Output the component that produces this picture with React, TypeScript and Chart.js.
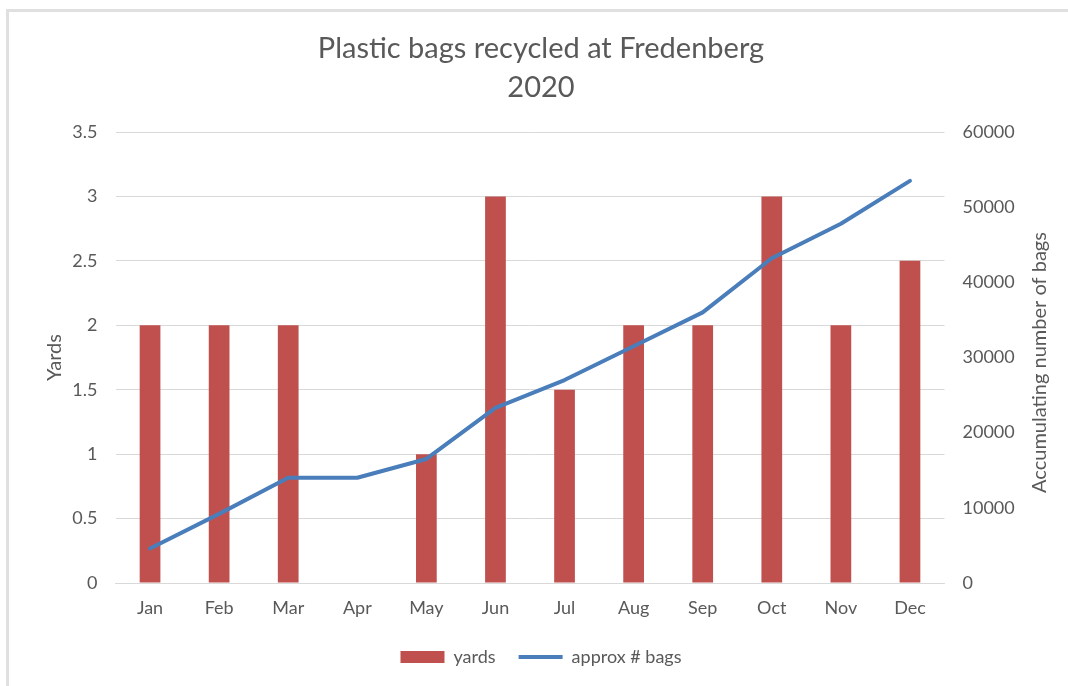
import React, { useEffect, useRef } from "react";
import { Chart, registerables } from "chart.js";

Chart.register(...registerables);

const months = ["Jan", "Feb", "Mar", "Apr", "May", "Jun", "Jul", "Aug", "Sep", "Oct", "Nov", "Dec"];
const yards = [2, 2, 2, 0, 1, 3, 1.5, 2, 2, 3, 2, 2.5];
const approxBags = [4600, 9200, 14000, 14000, 16500, 23300, 27000, 31500, 36000, 43200, 47800, 53500];
const titleLines = ["Plastic bags recycled at Fredenberg", "2020"];
const rightAxisTitle = "Accumulating number of bags";

const FONT = "Lato, 'Open Sans', sans-serif";
const TEXT = "#595959";
const GRID = "#d9d9d9";
const BAR = "#c0504d";
const LINE = "#4a7ebb";

const PAD_LEFT = 14;

// Right-hand axis caption, reading bottom to top.
const rightTitlePlugin = {
  id: "rightTitle",
  afterDraw(chart: any) {
    const { ctx, chartArea } = chart;
    ctx.save();
    ctx.fillStyle = TEXT;
    ctx.font = `20px ${FONT}`;
    ctx.textAlign = "center";
    ctx.textBaseline = "middle";
    ctx.translate(1040, (chartArea.top + chartArea.bottom) / 2 + 5);
    ctx.rotate(-Math.PI / 2);
    ctx.fillText(rightAxisTitle, 0, 0);
    ctx.restore();
  },
};

export default function App() {
  const canvasRef = useRef<HTMLCanvasElement | null>(null);

  useEffect(() => {
    const canvas = canvasRef.current;
    if (!canvas) return;
    const chart = new Chart(canvas, {
      data: {
        labels: months,
        datasets: [
          {
            type: "bar",
            label: "yards",
            data: yards,
            backgroundColor: BAR,
            borderWidth: 0,
            yAxisID: "y",
            order: 1,
            barPercentage: 0.6,
            categoryPercentage: 0.5,
            pointStyle: "rect",
          },
          {
            type: "line",
            label: "approx # bags",
            data: approxBags,
            borderColor: LINE,
            backgroundColor: LINE,
            borderWidth: 4,
            pointRadius: 0,
            tension: 0,
            borderJoinStyle: "round",
            borderCapStyle: "round",
            yAxisID: "y1",
            order: 0,
            pointStyle: "line",
          },
        ],
      } as any,
      options: {
        responsive: false,
        animation: false,
        layout: { padding: { left: PAD_LEFT, right: 0, top: 29, bottom: 10 } },
        plugins: {
          tooltip: { enabled: false },
          title: {
            display: true,
            text: titleLines,
            color: TEXT,
            font: { family: FONT, size: 29, weight: "normal", lineHeight: 39 / 29 },
            padding: { top: 0, bottom: 25 },
          },
          legend: {
            position: "bottom",
            labels: {
              color: TEXT,
              font: { family: FONT, size: 18 },
              usePointStyle: true,
              pointStyleWidth: 44,
              boxHeight: 12,
              padding: 23,
              sort: (a: any, b: any) => a.datasetIndex - b.datasetIndex,
            },
          },
        },
        scales: {
          x: {
            grid: { display: false, drawTicks: false },
            border: { display: true, color: GRID, width: 1 },
            ticks: { color: TEXT, font: { family: FONT, size: 18 }, padding: 14 },
            afterFit: (s: any) => {
              s.height = 42;
            },
          },
          y: {
            position: "left",
            min: 0,
            max: 3.5,
            ticks: {
              stepSize: 0.5,
              color: TEXT,
              font: { family: FONT, size: 18 },
              padding: 18,
              callback: (v: any) => String(v),
            },
            grid: { color: GRID, drawTicks: false, lineWidth: 1 },
            border: { display: false },
            title: {
              display: true,
              text: "Yards",
              color: TEXT,
              font: { family: FONT, size: 20 },
              padding: { top: 29, bottom: 0 },
            },
            afterFit: (s: any) => {
              s.width = 115.5 - PAD_LEFT;
            },
          },
          y1: {
            position: "right",
            min: 0,
            max: 60000,
            ticks: {
              stepSize: 10000,
              color: TEXT,
              font: { family: FONT, size: 18 },
              padding: 18,
              callback: (v: any) => String(v),
            },
            grid: { display: false, drawTicks: false },
            border: { display: false },
            afterFit: (s: any) => {
              s.width = 1068 - 944.5;
            },
          },
        },
      },
      plugins: [rightTitlePlugin],
    });
    return () => chart.destroy();
  }, []);

  return (
    <div
      style={{
        position: "fixed",
        left: 0,
        top: 0,
        width: 1068,
        height: 686,
        background: "#ffffff",
        overflow: "hidden",
      }}
    >
      <div
        style={{
          position: "absolute",
          left: 6,
          top: 9,
          width: 1200,
          height: 800,
          borderTop: "3px solid #e0e0e0",
          borderLeft: "3px solid #e0e0e0",
        }}
      />
      <canvas
        ref={canvasRef}
        width={1068}
        height={686}
        style={{ position: "absolute", left: 0, top: 0, width: 1068, height: 686 }}
      />
    </div>
  );
}
